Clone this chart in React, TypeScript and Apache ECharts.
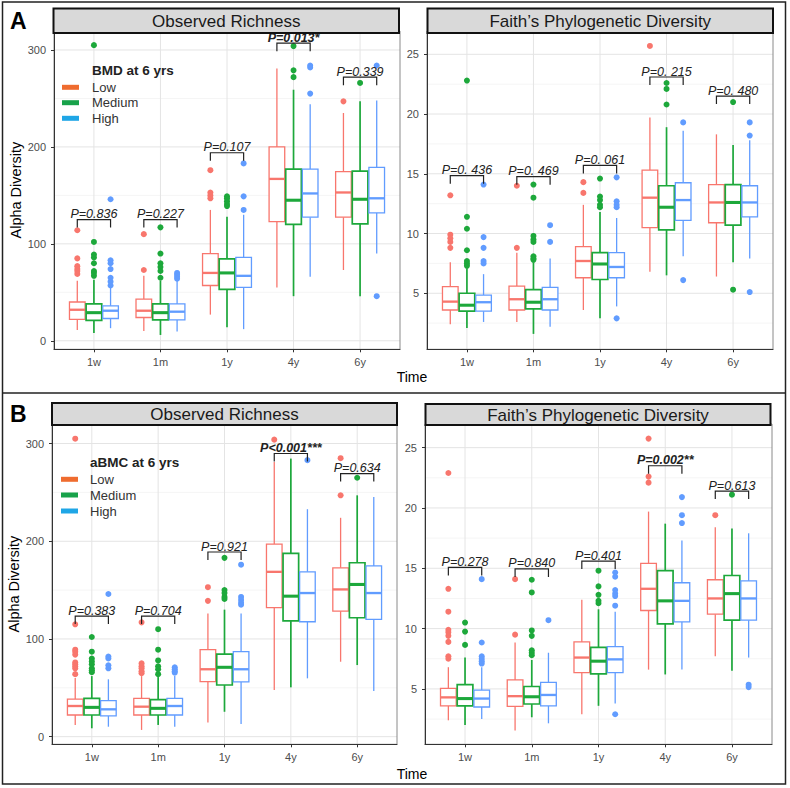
import React, { useEffect, useRef } from 'react';
import * as echarts from 'echarts';

const times = ['1w', '1m', '1y', '4y', '6y'];
const groups = ['Low', 'Medium', 'High'];

// Box statistics per time point: [lower whisker, Q1, median, Q3, upper whisker]
// Panel A – Observed Richness (BMD at 6 yrs)
const richA_Low = [[11, 22, 32, 40, 62], [10, 24, 31, 43, 67], [27, 57, 70, 90, 135], [55, 123, 167, 200, 281], [73, 127.5, 153, 174.5, 235]];
const richA_Medium = [[8, 21, 29, 38, 63], [6, 21.6, 29, 38, 62], [14, 53, 70, 84.5, 128], [46, 120, 145, 177, 259], [46, 120.6, 146, 175, 247]];
const richA_High = [[13, 23, 31, 36, 55], [9.6, 21.6, 30, 38, 62], [12, 55, 67, 86, 130], [66, 127.5, 152, 177, 244], [90, 132, 147, 179, 248]];
const richA_Low_out = [[114, 85, 77, 74, 72, 69], [110, 73], [176, 153, 150, 147], [], [247]];
const richA_Medium_out = [[305, 102, 89, 86, 80, 72, 70, 67], [117, 90, 80, 76, 72, 65], [149, 147, 144, 141, 139], [304, 279, 272], [266]];
const richA_High_out = [[146, 83, 80, 74, 65, 61, 57], [70, 68, 66, 64], [183, 149, 135], [284, 282, 255], [284, 46]];
const richA_p = ['P=0.836', 'P=0.227', 'P=0.107', 'P=0.013*', 'P=0.339'];
const richA_bracket = [125, 125, 194, 307, 272];

// Panel A – Faith's Phylogenetic Diversity
const faithA_Low = [[2.4, 3.6, 4.3, 5.55, 7.6], [2.6, 3.6, 4.5, 5.6, 8.4], [3.6, 6.3, 7.7, 8.9, 12.4], [6.8, 10.5, 13.0, 15.3, 19.7], [6.4, 10.9, 12.6, 14.1, 18.3]];
const faithA_Medium = [[2.1, 3.5, 4.0, 5.0, 7.1], [1.6, 3.7, 4.25, 5.3, 7.6], [2.9, 6.15, 7.45, 8.4, 11.8], [6.5, 10.3, 12.2, 14.0, 18.9], [7.6, 10.7, 12.6, 14.1, 17.4]];
const faithA_High = [[2.6, 3.5, 4.25, 4.85, 6.6], [2.2, 3.6, 4.5, 5.5, 7.9], [3.9, 6.3, 7.2, 8.4, 11.3], [8.1, 11.1, 12.8, 14.25, 18.6], [7.9, 11.4, 12.6, 14.0, 17.8]];
const faithA_Low_out = [[13.2, 9.9, 9.6, 9.3, 8.8], [14.0, 8.8], [14.3, 13.4], [25.7], []];
const faithA_Medium_out = [[22.8, 11.4, 10.4, 8.6, 7.7, 7.5, 7.3], [14.1, 13.0, 9.8, 9.5, 9.3, 8.1, 7.9, 7.8], [14.6, 13.1, 12.8, 12.4, 12.2], [22.6, 22.1, 20.8], [21.0, 5.3]];
const faithA_High_out = [[14.1, 9.7, 8.8, 7.7, 7.5], [10.7, 9.3], [14.7, 12.7, 12.4, 12.2, 2.9], [19.3, 6.1], [19.3, 18.2, 5.1]];
const faithA_p = ['P=0. 436', 'P=0. 469', 'P=0. 061', 'P=0. 215', 'P=0. 480'];
const faithA_bracket = [14.84, 14.76, 15.7, 23.1, 21.5];

// Panel B – Observed Richness (aBMC at 6 yrs)
const richB_Low = [[12, 22.2, 31.4, 38.5, 60], [6.9, 22.2, 30.7, 39.3, 62], [14.4, 56.3, 69, 89, 126], [47.7, 132, 168.7, 197, 281], [76.7, 128.5, 150.7, 172.8, 224]];
const richB_Medium = [[8.6, 22.2, 30, 39.3, 62], [12, 22.2, 29, 38, 61], [25.5, 52.9, 71, 84.5, 130], [50.5, 118.6, 143.8, 187.5, 284.6], [73.3, 121.7, 155.8, 178, 247]];
const richB_High = [[10.2, 21.2, 28, 36.8, 58.7], [10.2, 22.2, 31.4, 39.3, 62], [13, 56, 69, 87, 126], [59.7, 117.6, 147, 168.7, 232.8], [46.7, 120, 147, 174.8, 245.4]];
const richB_Low_out = [[305, 115, 89, 87, 84, 76, 74, 72, 70, 64], [117, 75, 72, 70, 67, 65], [153, 139], [304], [285, 247]];
const richB_Medium_out = [[102, 87, 80, 77, 74, 70, 68, 66], [110, 89, 78, 72, 69, 64], [183, 150, 147, 143, 141], [], [265]];
const richB_High_out = [[146, 82, 80, 73, 70], [71, 69, 67, 65.5], [176, 143, 140, 137, 135], [283], []];
const richB_p = ['P=0.383', 'P=0.704', 'P=0.921', 'P<0.001***', 'P=0.634'];
const richB_bracket = [123.4, 123.4, 189, 289.8, 269.3];

// Panel B – Faith's Phylogenetic Diversity
const faithB_Low = [[2.4, 3.6, 4.3, 5.05, 6.8], [1.55, 3.55, 4.4, 5.75, 8.85], [2.9, 6.35, 7.6, 8.9, 12.4], [6.6, 11.5, 13.3, 15.4, 19.7], [7.7, 11.2, 12.5, 14.05, 18.4]];
const faithB_Medium = [[2.0, 3.6, 4.2, 5.35, 7.6], [2.65, 3.75, 4.35, 5.2, 7.4], [3.6, 6.25, 7.3, 8.45, 11.6], [6.2, 10.4, 12.3, 14.8, 18.7], [6.5, 10.7, 12.9, 14.4, 18.3]];
const faithB_High = [[2.5, 3.5, 4.2, 4.9, 6.8], [2.15, 3.6, 4.5, 5.55, 8.0], [3.8, 6.35, 7.45, 8.5, 11.4], [6.6, 10.55, 12.3, 13.8, 17.3], [7.6, 10.7, 12.5, 13.95, 17.9]];
const faithB_Low_out = [[22.9, 13.3, 11.4, 9.9, 9.7, 9.4, 8.9, 7.7, 7.5], [14.1, 9.5], [], [25.75, 22.6, 22.1], [19.4]];
const faithB_Medium_out = [[10.5, 9.75, 8.65], [14.05, 13.0, 9.85, 9.4, 8.2, 8.0, 7.8], [14.8, 13.5, 12.8, 12.3, 12.1], [], [21.1]];
const faithB_High_out = [[14.1, 8.85, 7.7, 7.5, 7.3, 7.1], [10.7], [14.65, 14.3, 13.2, 12.9, 12.7, 11.9, 2.9], [20.9, 19.4, 18.75], [5.35, 5.15]];
const faithB_p = ['P=0.278', 'P=0.840', 'P=0.401', 'P=0.002**', 'P=0.613'];
const faithB_bracket = [15.07, 14.95, 15.6, 23.5, 21.4];

// Axis ticks
const richTicks = [0, 100, 200, 300];
const richMinor = [50, 150, 250];
const faithTicks = [5, 10, 15, 20, 25];
const faithMinor = [2.5, 7.5, 12.5, 17.5, 22.5];

const stripTitles = ['Observed Richness', 'Faith\u2019s Phylogenetic Diversity'];
const legendTitles = ['BMD at 6 yrs', 'aBMC at 6 yrs'];

const FONT = '"Liberation Sans", Arial, Helvetica, sans-serif';
const groupColors = ['#F8766D', '#1DA83B', '#619CFF'];
const legendColors = ['#EF6C2F', '#18A24A', '#1FA6E6'];
const groupLineWidth = [1.3, 1.7, 1.3];
const GROUP_OFFSET = 0.25;
const BOX_WIDTH = 0.235;

type Panel = {
  stats: number[][][];
  outs: number[][][];
  p: string[];
  bracket: number[];
  yMin: number;
  yMax: number;
  ticks: number[];
  minor: number[];
  grid: { left: number; top: number; width: number; height: number };
  strip: number[];
  yName: string;
};

const panels: Panel[] = [
  {
    stats: [richA_Low, richA_Medium, richA_High], outs: [richA_Low_out, richA_Medium_out, richA_High_out],
    p: richA_p, bracket: richA_bracket, yMin: -8.8, yMax: 319.6, ticks: richTicks, minor: richMinor,
    grid: { left: 54, top: 31, width: 346, height: 318.3 }, strip: [53.5, 8.5, 345.5, 24.5], yName: 'Alpha Diversity',
  },
  {
    stats: [faithA_Low, faithA_Medium, faithA_High], outs: [faithA_Low_out, faithA_Medium_out, faithA_High_out],
    p: faithA_p, bracket: faithA_bracket, yMin: 0.31, yMax: 26.95, ticks: faithTicks, minor: faithMinor,
    grid: { left: 427, top: 31, width: 346, height: 318.3 }, strip: [427.5, 8.5, 345.5, 24.5], yName: '',
  },
  {
    stats: [richB_Low, richB_Medium, richB_High], outs: [richB_Low_out, richB_Medium_out, richB_High_out],
    p: richB_p, bracket: richB_bracket, yMin: -7.8, yMax: 320, ticks: richTicks, minor: richMinor,
    grid: { left: 52, top: 424, width: 345, height: 320.3 }, strip: [52, 403, 345, 22], yName: 'Alpha Diversity',
  },
  {
    stats: [faithB_Low, faithB_Medium, faithB_High], outs: [faithB_Low_out, faithB_Medium_out, faithB_High_out],
    p: faithB_p, bracket: faithB_bracket, yMin: 0.41, yMax: 26.96, ticks: faithTicks, minor: faithMinor,
    grid: { left: 425, top: 424, width: 347, height: 320.3 }, strip: [425.5, 404, 345, 21], yName: '',
  },
];

const timeIdx = times.map((_, i) => i);

function buildOption() {
  const grids: any[] = [];
  const xAxes: any[] = [];
  const yAxes: any[] = [];
  const series: any[] = [];
  const graphics: any[] = [];

  panels.forEach((pn, k) => {
    grids.push({
      ...pn.grid,
      show: true,
      borderColor: '#8a8a8a',
      borderWidth: 1,
      backgroundColor: 'transparent',
      containLabel: false,
      z: 4,
    });
    xAxes.push({
      type: 'value',
      gridIndex: k,
      min: -0.6,
      max: 4.6,
      z: 5,
      splitLine: { show: false },
      axisLine: { show: true, onZero: false, lineStyle: { color: '#333', width: 1 } },
      axisTick: { show: true, customValues: timeIdx, length: 3, lineStyle: { color: '#333' } },
      axisLabel: {
        customValues: timeIdx,
        formatter: (v: number) => times[Math.round(v)] ?? '',
        fontSize: 11,
        color: '#4D4D4D',
        fontFamily: FONT,
        margin: 7,
      },
    });
    yAxes.push({
      type: 'value',
      gridIndex: k,
      min: pn.yMin,
      max: pn.yMax,
      z: 5,
      splitLine: { show: false },
      axisLine: { show: true, onZero: false, lineStyle: { color: '#333', width: 1 } },
      axisTick: { show: true, customValues: pn.ticks, length: 3, lineStyle: { color: '#333' } },
      axisLabel: { customValues: pn.ticks, fontSize: 11, color: '#4D4D4D', fontFamily: FONT, margin: 8 },
      name: pn.yName,
      nameLocation: 'middle',
      nameGap: 31,
      nameTextStyle: { fontSize: 14.5, color: '#000', fontFamily: FONT },
    });

    // gridlines
    const hLine = (color: string, width: number) => (params: any, api: any) => {
      const cs = params.coordSys;
      const y = api.coord([0, api.value(1)])[1];
      return { type: 'line', shape: { x1: cs.x, y1: y, x2: cs.x + cs.width, y2: y }, style: { stroke: color, lineWidth: width } };
    };
    series.push({
      type: 'custom', name: 'minor-grid', xAxisIndex: k, yAxisIndex: k, z: 0, silent: true,
      data: pn.minor.map((v) => [0, v]), renderItem: hLine('#F2F2F2', 0.8),
    });
    series.push({
      type: 'custom', name: 'major-grid', xAxisIndex: k, yAxisIndex: k, z: 0, silent: true,
      data: pn.ticks.map((v) => [0, v]), renderItem: hLine('#E4E4E4', 1),
    });
    series.push({
      type: 'custom', name: 'x-grid', xAxisIndex: k, yAxisIndex: k, z: 0, silent: true,
      data: timeIdx.map((i) => [i, pn.yMin]),
      renderItem: (params: any, api: any) => {
        const cs = params.coordSys;
        const x = api.coord([api.value(0), pn.yMin])[0];
        return { type: 'line', shape: { x1: x, y1: cs.y, x2: x, y2: cs.y + cs.height }, style: { stroke: '#E4E4E4', lineWidth: 1 } };
      },
    });

    // boxes
    groups.forEach((g, gi) => {
      const color = groupColors[gi];
      const lw = groupLineWidth[gi];
      series.push({
        type: 'custom',
        name: g,
        xAxisIndex: k,
        yAxisIndex: k,
        z: 2,
        encode: { x: 0, y: [1, 2, 3, 4, 5] },
        data: pn.stats[gi].map((s, i) => [i + (gi - 1) * GROUP_OFFSET, ...s]),
        renderItem: (params: any, api: any) => {
          const xc = api.value(0);
          const lo = api.coord([xc, api.value(1)]);
          const q1 = api.coord([xc, api.value(2)]);
          const md = api.coord([xc, api.value(3)]);
          const q3 = api.coord([xc, api.value(4)]);
          const hi = api.coord([xc, api.value(5)]);
          const hw = api.size([BOX_WIDTH, 0])[0] / 2;
          const st = { stroke: color, lineWidth: lw };
          return {
            type: 'group',
            children: [
              { type: 'line', shape: { x1: lo[0], y1: lo[1], x2: q1[0], y2: q1[1] }, style: st },
              { type: 'line', shape: { x1: q3[0], y1: q3[1], x2: hi[0], y2: hi[1] }, style: st },
              { type: 'rect', shape: { x: q3[0] - hw, y: q3[1], width: hw * 2, height: q1[1] - q3[1] }, style: { fill: '#fff', stroke: color, lineWidth: lw } },
              { type: 'line', shape: { x1: md[0] - hw, y1: md[1], x2: md[0] + hw, y2: md[1] }, style: { stroke: color, lineWidth: lw * 1.8 } },
            ],
          };
        },
      });
      // outliers
      const pts: number[][] = [];
      pn.outs[gi].forEach((arr, i) => arr.forEach((v) => pts.push([i + (gi - 1) * GROUP_OFFSET, v])));
      series.push({
        type: 'scatter',
        name: g,
        xAxisIndex: k,
        yAxisIndex: k,
        z: 3,
        symbol: 'circle',
        symbolSize: 6,
        itemStyle: { color, opacity: 1 },
        data: pts,
      });
    });

    // p-value brackets
    series.push({
      type: 'custom',
      name: 'p-values',
      xAxisIndex: k,
      yAxisIndex: k,
      z: 6,
      silent: true,
      data: pn.bracket.map((b, i) => [i, b]),
      renderItem: (params: any, api: any) => {
        const i = api.value(0);
        const top = api.value(1);
        const l = api.coord([i - GROUP_OFFSET, top]);
        const r = api.coord([i + GROUP_OFFSET, top]);
        const leg = 8;
        const label = pn.p[params.dataIndex];
        const bold = label.indexOf('*') >= 0;
        return {
          type: 'group',
          children: [
            {
              type: 'polyline',
              shape: { points: [[l[0], l[1] + leg], [l[0], l[1]], [r[0], r[1]], [r[0], r[1] + leg]] },
              style: { stroke: '#222', lineWidth: 1.2, fill: 'none' },
            },
            {
              type: 'text',
              x: (l[0] + r[0]) / 2,
              y: l[1] - 5.5,
              style: {
                text: label,
                font: `italic ${bold ? 'bold ' : ''}12.5px ${FONT}`,
                fill: '#222',
                align: 'center',
                verticalAlign: 'middle',
              },
            },
          ],
        };
      },
    });

    // strip
    const [sx, sy, sw, sh] = pn.strip;
    graphics.push({
      type: 'rect',
      z: 100,
      shape: { x: sx, y: sy, width: sw, height: sh },
      style: { fill: '#D9D9D9', stroke: '#111', lineWidth: 2 },
    });
    graphics.push({
      type: 'text',
      z: 101,
      x: sx + sw / 2,
      y: sy + sh / 2 + 0.5,
      style: { text: stripTitles[k % 2], font: `17px ${FONT}`, fill: '#1a1a1a', align: 'center', verticalAlign: 'middle' },
    });
  });

  // frame, divider, letters, x title, legends
  graphics.push({ type: 'rect', z: 100, shape: { x: 2.5, y: 2, width: 783, height: 782 }, style: { fill: 'none', stroke: '#222', lineWidth: 1.5 } });
  graphics.push({ type: 'line', z: 100, shape: { x1: 2.5, y1: 393, x2: 785.5, y2: 393 }, style: { stroke: '#222', lineWidth: 1.5 } });
  [['A', 21], ['B', 413.5]].forEach(([t, y]) => {
    graphics.push({ type: 'text', z: 101, x: 10, y, style: { text: t, font: `bold 23px ${FONT}`, fill: '#000', align: 'left', verticalAlign: 'middle' } });
  });
  [377, 773.5].forEach((y) => {
    graphics.push({ type: 'text', z: 101, x: 412, y, style: { text: 'Time', font: `14px ${FONT}`, fill: '#000', align: 'center', verticalAlign: 'middle' } });
  });
  const legendPos = [
    { tx: 92, ty: 70, sx: 62, rows: [87.3, 102.7, 118.3] },
    { tx: 90, ty: 462.7, sx: 61, rows: [479.3, 495, 511] },
  ];
  legendPos.forEach((lp, li) => {
    graphics.push({ type: 'text', z: 101, x: lp.tx, y: lp.ty, style: { text: legendTitles[li], font: `bold 13.5px ${FONT}`, fill: '#222', align: 'left', verticalAlign: 'middle' } });
    groups.forEach((g, gi) => {
      graphics.push({ type: 'rect', z: 101, shape: { x: lp.sx, y: lp.rows[gi] - 2.5, width: 17, height: 5 }, style: { fill: legendColors[gi] } });
      graphics.push({ type: 'text', z: 101, x: lp.tx, y: lp.rows[gi], style: { text: g, font: `13px ${FONT}`, fill: '#333', align: 'left', verticalAlign: 'middle' } });
    });
  });

  return {
    animation: false,
    backgroundColor: '#ffffff',
    textStyle: { fontFamily: FONT },
    grid: grids,
    xAxis: xAxes,
    yAxis: yAxes,
    series,
    graphic: { elements: graphics },
  };
}

export default function App() {
  const ref = useRef<HTMLDivElement>(null);
  useEffect(() => {
    document.body.style.margin = '0';
    const chart = echarts.init(ref.current as HTMLDivElement, null, { renderer: 'svg' });
    chart.setOption(buildOption() as any);
    return () => chart.dispose();
  }, []);
  return <div ref={ref} style={{ position: 'absolute', left: 0, top: 0, width: 790, height: 788 }} />;
}
